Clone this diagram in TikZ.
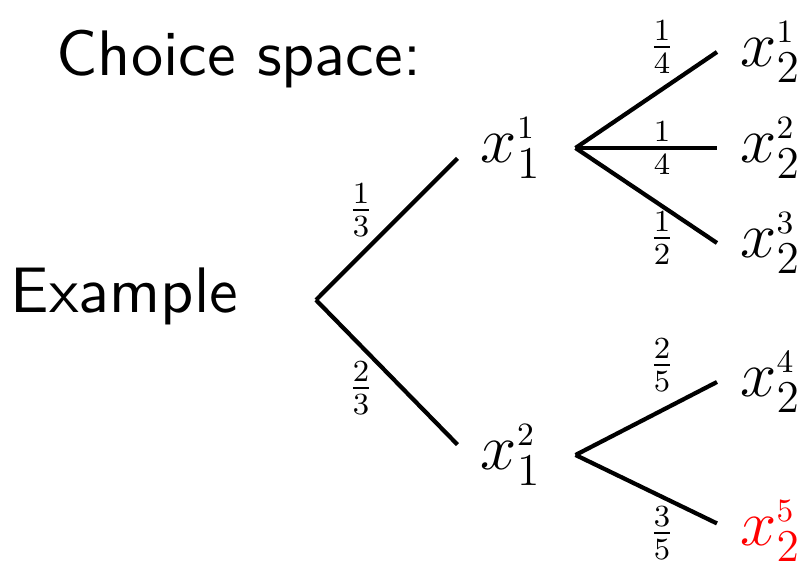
\RequirePackage{fix-cm}
\documentclass[tikz,border=0pt]{standalone}
\usepackage{xcolor}
\usetikzlibrary{positioning}
\definecolor{leafred}{HTML}{FF0000}
\font\headfont="[lmsans10-regular]:mapping=tex-text" at 18.3pt

\begin{document}
\begin{tikzpicture}[
    big/.style={font=\fontsize{18.5}{22}\selectfont},
    title/.style={font=\headfont, inner sep=0pt},
    prob/.style={font=\fontsize{12.5}{15}\selectfont, inner sep=0pt},
    mid/.style={big, text width=0.71cm, inner xsep=6.5pt, align=left},
    leaf/.style={big, anchor=west, inner xsep=6.5pt},
    branch/.style={line width=1.2pt}
]
    \useasboundingbox (0,0) rectangle (8.04,5.63);

    % Headings
    \node[title, anchor=base west] (choice) at (0.56,4.87) {Choice space:};
    \node[title, anchor=base west] (example) at (0.10,2.50) {Example};

    % First stage
    \coordinate (root) at (3.16,2.63);
    \node[mid] (x11) at (5.165,4.15) {$x_1^{\scriptscriptstyle 1}$};
    \node[mid] (x12) at (5.165,1.08) {$x_1^{\scriptscriptstyle 2}$};

    % Second stage
    \foreach \name/\y/\k in {x21/5.11/1, x22/4.15/2, x23/3.20/3, x24/1.81/4} {
        \node[leaf] (\name) at (7.17,\y) {$x_2^{\scriptscriptstyle \k}$};
    }
    \node[leaf, leafred] (x25) at (7.17,0.32) {$x_2^{\scriptscriptstyle 5}$};

    % Branches
    \draw[branch] (root) -- (x11.190);
    \draw[branch] (root) -- (x12.170);
    \foreach \leaf in {x21,x22,x23} {
        \draw[branch] (x11.east) -- (\leaf.west);
    }
    \draw[branch] (x12.east) -- (x24.west);
    \draw[branch] (x12.east) -- (x25.172);

    % Probabilities
    \node[prob] (p11) at (3.61,3.53) {$\frac{1}{3}$};
    \node[prob] (p12) at (3.61,1.75) {$\frac{2}{3}$};
    \node[prob] (p21) at (6.62,5.16) {$\frac{1}{4}$};
    \node[prob] (p22) at (6.62,4.15) {$\frac{1}{4}$};
    \node[prob] (p23) at (6.62,3.25) {$\frac{1}{2}$};
    \node[prob] (p24) at (6.62,1.98) {$\frac{2}{5}$};
    \node[prob] (p25) at (6.62,0.30) {$\frac{3}{5}$};
\end{tikzpicture}
\end{document}
